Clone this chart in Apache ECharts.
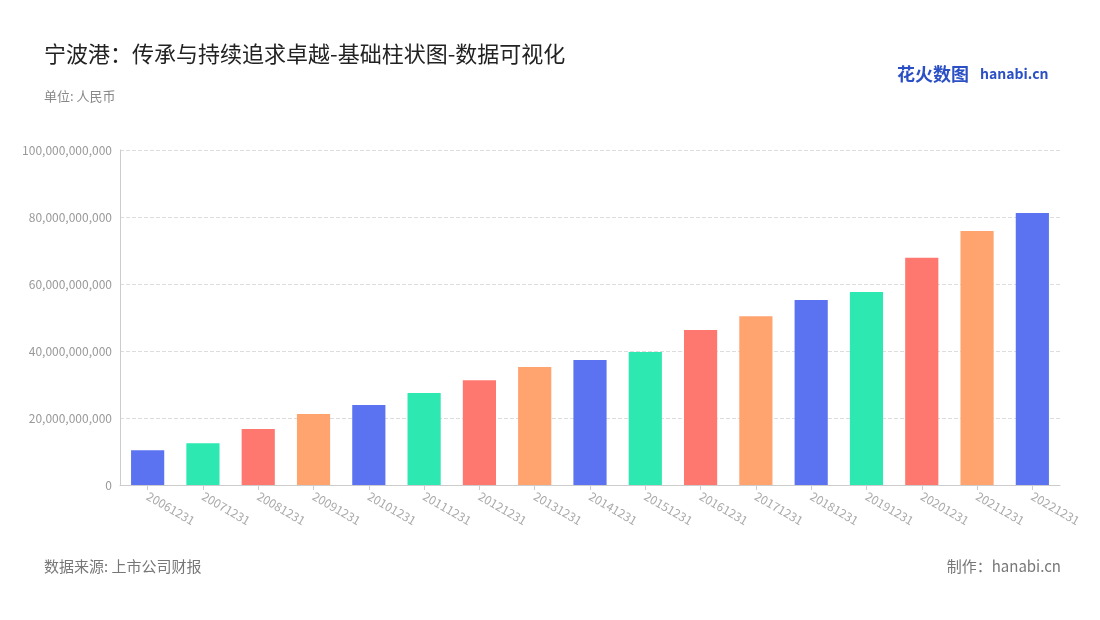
<!DOCTYPE html>
<html><head><meta charset="utf-8">
<script src="https://cdn.jsdelivr.net/npm/echarts@6/dist/echarts.min.js"></script>
<style>html,body{margin:0;padding:0;background:#fff}#c{width:1100px;height:620px}</style>
</head><body><div id="c"></div>
<script>
const categories = ['20061231','20071231','20081231','20091231','20101231','20111231','20121231','20131231','20141231','20151231','20161231','20171231','20181231','20191231','20201231','20211231','20221231'];
const values = [10.4,12.5,16.7,21.2,23.9,27.5,31.3,35.2,37.3,39.7,46.3,50.4,55.2,57.6,67.8,75.8,81.2].map(v=>v*1e9);
const palette = ['#5b73f0','#2de8b0','#ff7870','#ffa36f'];
const font = '"Noto Sans CJK SC","Noto Sans",sans-serif';
const chart = echarts.init(document.getElementById('c'));
chart.setOption({
  animation:false,
  textStyle:{fontFamily:font},
  title:[
    {text:'宁波港：传承与持续追求卓越-基础柱状图-数据可视化',left:39,top:38,textStyle:{fontSize:22,fontWeight:'normal',color:'#222',fontFamily:font}},
    {text:'单位: 人民币',left:39,top:85,textStyle:{fontSize:13,fontWeight:'normal',color:'#888',fontFamily:font}},
    {text:'数据来源: 上市公司财报',left:39,top:554,textStyle:{fontSize:15,fontWeight:'normal',color:'#777',fontFamily:font}},
    {text:'制作：hanabi.cn',right:34,top:554,textStyle:{fontSize:15,fontWeight:'normal',color:'#777',fontFamily:font}},
    {text:'花火数图',left:892,top:60,textStyle:{fontSize:18,fontWeight:'bold',color:'#2b4fc4',fontFamily:font}},
    {text:'hanabi.cn',left:975,top:62,textStyle:{fontSize:14,fontWeight:'bold',color:'#2b4fc4',fontFamily:font}}
  ],
  grid:{left:120,right:40,top:150,bottom:135},
  xAxis:{type:'category',data:categories,
    axisLine:{lineStyle:{color:'#ccc'}},axisTick:{show:true,alignWithLabel:true,lineStyle:{color:'#ccc'}},
    axisLabel:{rotate:-30,color:'#aaa',fontSize:12,interval:0,margin:10}},
  yAxis:{type:'value',min:0,max:100e9,interval:20e9,
    axisLine:{show:true,lineStyle:{color:'#ccc'}},
    axisLabel:{color:'#999',fontSize:12,formatter:v=>v.toLocaleString('en-US')},
    splitLine:{lineStyle:{type:'dashed',color:'#ddd'}}},
  series:[{type:'bar',barWidth:'60%',
    data:values.map((v,i)=>({value:v,itemStyle:{color:palette[i%4]}}))}]
});
</script></body></html>
